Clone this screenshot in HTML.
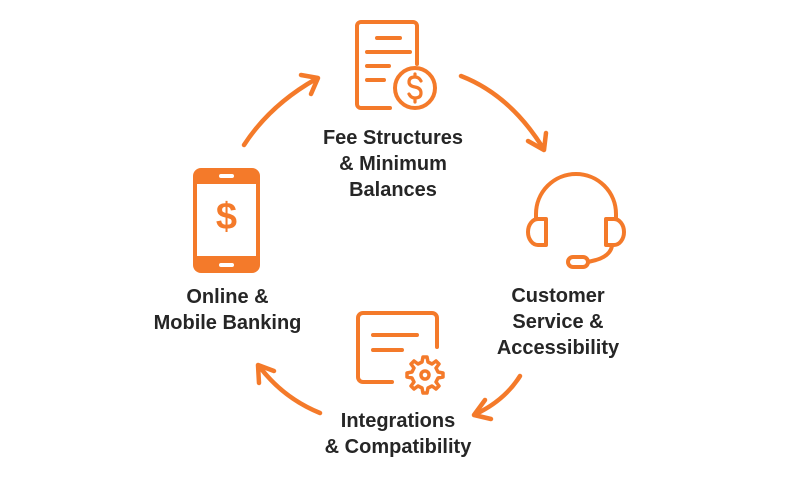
<html><head><style>
body{margin:0;background:#fff;width:792px;height:488px;overflow:hidden;position:relative;font-family:"Liberation Sans",sans-serif}
.t{position:absolute;font-weight:bold;font-size:20px;color:#262626;text-align:center;line-height:26px}
</style></head><body>
<svg width="792" height="488" style="position:absolute;left:0;top:0" fill="none" stroke="#f47a2a" stroke-linecap="round" stroke-linejoin="round">
<!-- doc icon -->
<path d="M390 108 H361 a4 4 0 0 1 -4 -4 V26 a4 4 0 0 1 4 -4 H413 a4 4 0 0 1 4 4 V64" stroke-width="4"/>
<path d="M377 38 H400 M367 52 H410 M367 66 H389 M367 80 H384" stroke-width="4"/>
<circle cx="415" cy="88" r="20" stroke-width="4"/>
<path d="M421 81 q-2-4 -6-4 q-6 0 -6 5 q0 4 6 5 q6 1 6 6 q0 5 -6 5 q-4 0 -6-4 M415 74 V77 M415 99 V102" stroke-width="3.2"/>
<!-- headset -->
<path d="M536 218 V214 a40 40 0 0 1 80 0 V218" stroke-width="4"/>
<path d="M546 219 h-8 a10 13 0 0 0 0 26 h8 Z M606 219 h8 a10 13 0 0 1 0 26 h-8 Z" stroke-width="4"/>
<path d="M612 246 q-2 10 -16 14 l-8 2" stroke-width="4"/>
<rect x="568" y="257" width="20" height="10" rx="5" stroke-width="4"/>
<!-- integration icon -->
<path d="M392 382 H363 a5 5 0 0 1 -5 -5 V318 a5 5 0 0 1 5 -5 H432 a5 5 0 0 1 5 5 V347" stroke-width="4"/>
<path d="M373 335 H417 M373 350 H402" stroke-width="4"/>
<path d="M423 357 l4 0 1 5 4 2 4 -3 3 3 -3 4 2 4 5 1 0 4 -5 1 -2 4 3 4 -3 3 -4 -3 -4 2 -1 5 h-4 l-1 -5 -4 -2 -4 3 -3 -3 3 -4 -2 -4 -5 -1 v-4 l5 -1 2 -4 -3 -4 3 -3 4 3 4 -2 Z" stroke-width="3.5"/>
<circle cx="425" cy="375" r="4" stroke-width="3.5"/>
<!-- arrows -->
<path d="M244 145 Q270 105 316 79" stroke-width="4.5"/><path d="M301 75 L318 78 L311 94" stroke-width="4.5"/>
<path d="M461 76 Q510 95 543 148" stroke-width="4.5"/><path d="M528 141 L544 150 L546 133" stroke-width="4.5"/>
<path d="M520 376 Q505 400 476 414" stroke-width="4.5"/><path d="M485 400 L474 415 L491 419" stroke-width="4.5"/>
<path d="M320 413 Q283 398 259 366" stroke-width="4.5"/><path d="M259 383 L258 365 L274 371" stroke-width="4.5"/>
</svg>
<!-- phone -->
<div style="position:absolute;left:193px;top:168px;width:67px;height:105px;background:#f47a2a;border-radius:8px"></div>
<div style="position:absolute;left:197px;top:184px;width:59px;height:72px;background:#fff"></div>
<div style="position:absolute;left:219px;top:174px;width:15px;height:4px;background:#fff;border-radius:2px"></div>
<div style="position:absolute;left:219px;top:263px;width:15px;height:4px;background:#fff;border-radius:2px"></div>
<div style="position:absolute;left:197px;top:196px;width:59px;text-align:center;font:bold 38px 'Liberation Sans',sans-serif;color:#f47a2a">$</div>
<div class="t" style="left:293px;top:125px;width:200px">Fee Structures<br>&amp; Minimum<br>Balances</div>
<div class="t" style="left:463px;top:283px;width:190px">Customer<br>Service &amp;<br>Accessibility</div>
<div class="t" style="left:293px;top:408px;width:210px">Integrations<br>&amp; Compatibility</div>
<div class="t" style="left:125px;top:284px;width:205px">Online &amp;<br>Mobile Banking</div>
</body></html>
